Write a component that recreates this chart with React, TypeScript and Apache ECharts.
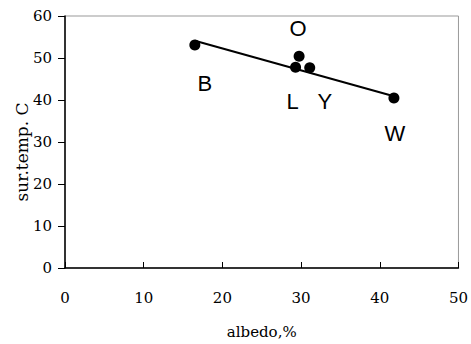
import React, { useEffect, useRef } from "react";
import * as echarts from "echarts";

const names = ["B", "O", "L", "Y", "W"];
const albedo = [16.5, 29.75, 29.3, 31.1, 41.8];
const surTemp = [53.1, 50.4, 47.8, 47.7, 40.5];
const labelOffsets: [number, number][] = [
  [10, 39],
  [-1, -28],
  [-3, 34],
  [15, 34],
  [1, 36],
];
const trendX = [16.5, 41.8];
const trendY = [54.1, 40.9];
const xTicks = [0, 10, 20, 30, 40, 50];
const yTicks = [0, 10, 20, 30, 40, 50, 60];
const xName = "albedo,%";
const yName = "sur.temp. C";

export default function App() {
  const ref = useRef<HTMLDivElement>(null);
  useEffect(() => {
    if (!ref.current) return;
    const chart = echarts.init(ref.current, null, { renderer: "svg" });
    const serif = "DejaVu Serif";
    chart.setOption({
      animation: false,
      grid: {
        left: 65,
        right: 10,
        top: 16,
        bottom: 75,
        show: true,
        borderColor: "#999",
        borderWidth: 1,
      },
      graphic: [
        {
          type: "text",
          x: 22,
          y: 152,
          rotation: Math.PI / 2,
          style: {
            text: yName,
            fontFamily: serif,
            fontSize: 17,
            fill: "#000",
            align: "center",
            verticalAlign: "middle",
          },
        },
      ],
      xAxis: {
        type: "value",
        min: xTicks[0],
        max: xTicks[xTicks.length - 1],
        interval: 10,
        name: xName,
        nameLocation: "middle",
        nameGap: 56,
        nameTextStyle: { fontFamily: serif, fontSize: 15, color: "#000" },
        axisLine: { show: true, onZero: false, lineStyle: { color: "#000", width: 1.5 } },
        axisTick: { show: true, inside: true, length: 6, lineStyle: { color: "#000" } },
        axisLabel: { margin: 22, fontFamily: serif, fontSize: 15, color: "#000" },
        splitLine: { show: false },
      },
      yAxis: {
        type: "value",
        min: yTicks[0],
        max: yTicks[yTicks.length - 1],
        interval: 10,
        axisLine: { show: true, onZero: false, lineStyle: { color: "#000", width: 1.5 } },
        axisTick: { show: true, inside: false, length: 7, lineStyle: { color: "#000" } },
        axisLabel: { margin: 13, fontFamily: serif, fontSize: 15, color: "#000" },
        splitLine: { show: false },
      },
      series: [
        {
          type: "line",
          data: trendX.map((x, i) => [x, trendY[i]]),
          symbol: "none",
          lineStyle: { color: "#000", width: 2 },
          silent: true,
          z: 2,
        },
        {
          type: "scatter",
          symbol: "circle",
          symbolSize: 11,
          itemStyle: { color: "#000", opacity: 1 },
          z: 3,
          data: names.map((n, i) => ({
            value: [albedo[i], surTemp[i]],
            name: n,
            label: {
              show: true,
              position: "inside",
              offset: labelOffsets[i],
              formatter: n,
              fontFamily: "Liberation Sans",
              fontSize: 22,
              color: "#000",
            },
          })),
        },
      ],
    });
    return () => chart.dispose();
  }, []);
  return <div ref={ref} style={{ width: 471, height: 344, position: "absolute", left: 0, top: 0 }} />;
}
